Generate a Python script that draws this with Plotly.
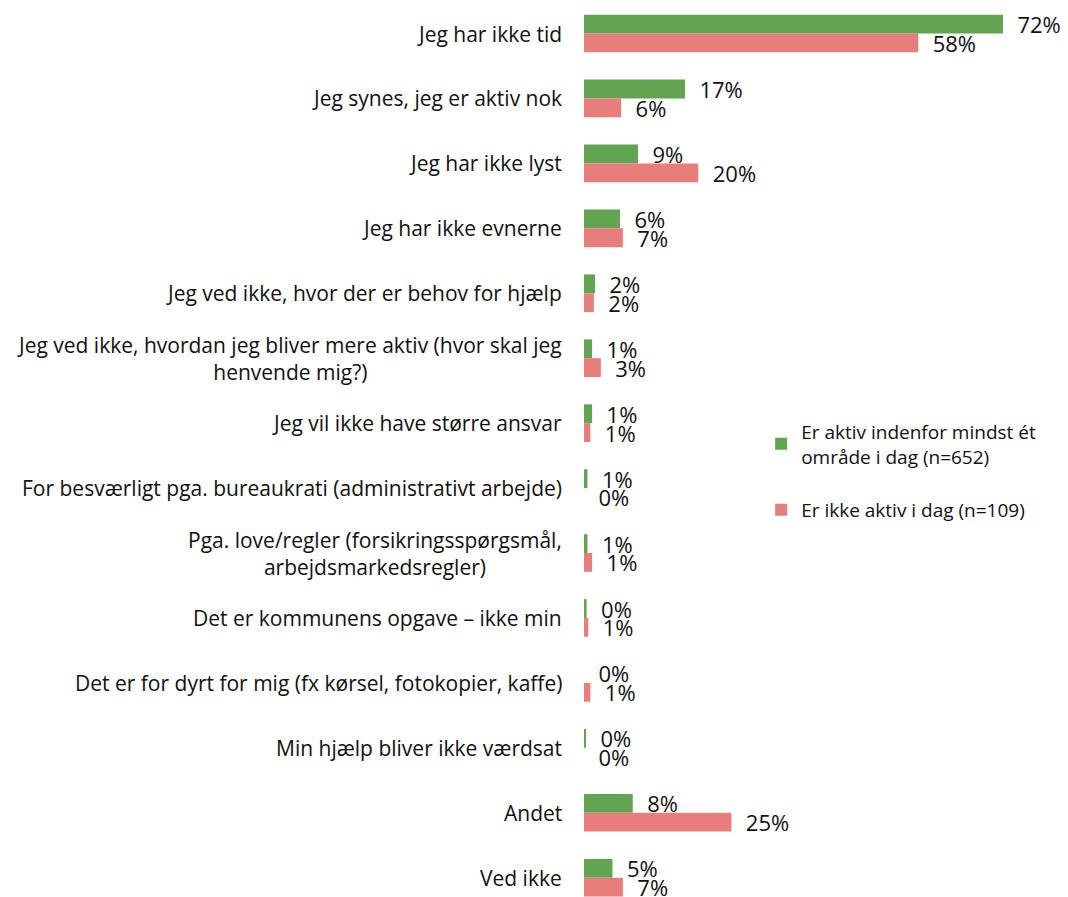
import plotly.graph_objects as go

categorias = [
    'Jeg har ikke tid',
    'Jeg synes, jeg er aktiv nok',
    'Jeg har ikke lyst',
    'Jeg har ikke evnerne',
    'Jeg ved ikke, hvor der er behov for hjælp',
    'Jeg ved ikke, hvordan jeg bliver mere aktiv (hvor skal jeg<br>henvende mig?)',
    'Jeg vil ikke have større ansvar',
    'For besværligt pga. bureaukrati (administrativt arbejde)',
    'Pga. love/regler (forsikringsspørgsmål,<br>arbejdsmarkedsregler)',
    'Det er kommunens opgave – ikke min',
    'Det er for dyrt for mig (fx kørsel, fotokopier, kaffe)',
    'Min hjælp bliver ikke værdsat',
    'Andet',
    'Ved ikke',
]

aktiv = [72.2, 17.4, 9.3, 6.2, 1.9, 1.4, 1.4, 0.6, 0.6, 0.45, 0.0, 0.3, 8.4, 4.9]
ikke_aktiv = [57.6, 6.4, 19.7, 6.7, 1.7, 2.9, 1.1, 0.0, 1.4, 0.75, 1.1, 0.0, 25.4, 6.7]

navn_aktiv = 'Er aktiv indenfor mindst ét<br>område i dag (n=652)'
navn_ikke = 'Er ikke aktiv i dag (n=109)'

FONT = '"Open Sans", Lato, sans-serif'

fig = go.Figure()

fig.add_trace(go.Bar(
    y=categorias, x=aktiv, orientation='h', name=navn_aktiv,
    legendgroup='a',
    marker_color='#63A453', marker_line_width=0,
    texttemplate='\u00a0\u00a0%{x:.0f}%', textposition='outside',
    constraintext='none', cliponaxis=False,
    textfont=dict(size=22, color='#111111', family=FONT),
))
fig.add_trace(go.Bar(
    y=categorias, x=ikke_aktiv, orientation='h', name=navn_ikke,
    legendgroup='b',
    marker_color='#E77E7C', marker_line_width=0,
    texttemplate='\u00a0\u00a0%{x:.0f}%', textposition='outside',
    constraintext='none', cliponaxis=False,
    textfont=dict(size=22, color='#111111', family=FONT),
))

# kategori-tekster som annotationer, saa to-linjers tekst kan centreres
for c in categorias:
    fig.add_annotation(
        x=0, y=c, xref='x', yref='y', text=c, showarrow=False,
        xanchor='right', align='center', xshift=-20,
        font=dict(size=21, color='#111111', family=FONT),
    )

fig.update_layout(
    width=1068, height=897,
    margin=dict(l=584, r=0, t=0, b=0),
    paper_bgcolor='white',
    plot_bgcolor='white',
    barmode='group',
    bargap=0.42,
    bargroupgap=0,
    font=dict(family=FONT, color='#111111'),
    xaxis=dict(range=[0, 83.4], visible=False, showgrid=False, zeroline=False),
    yaxis=dict(
        range=[13.297, -0.516],
        showticklabels=False, showgrid=False, zeroline=False,
        showline=False, ticks='',
    ),
    showlegend=True,
    legend=dict(
        x=0.366, y=0.54, xanchor='left', yanchor='top',
        font=dict(size=19, color='#111111', family=FONT),
        tracegroupgap=26,
        bgcolor='rgba(0,0,0,0)',
    ),
)

fig.write_html('out.html', config={'displayModeBar': False},
               post_script="document.body.style.margin='0';")
